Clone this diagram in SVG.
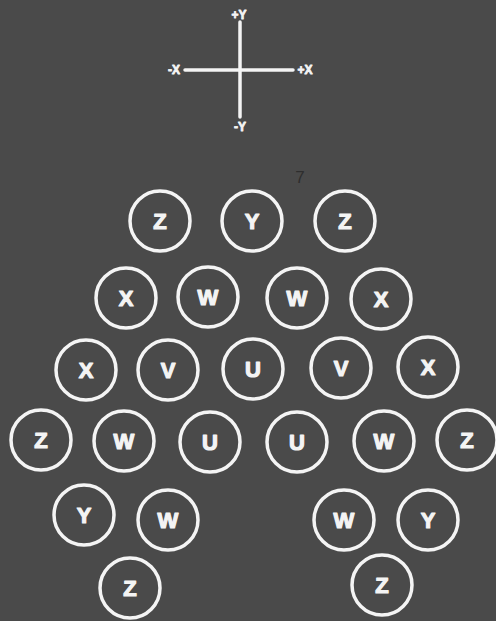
<svg xmlns="http://www.w3.org/2000/svg" width="496" height="621" viewBox="0 0 496 621">
<style>
.c{fill:none;stroke:#f4f4f4;stroke-width:3.5}
.t{fill:#f4f4f4;stroke:#f4f4f4;stroke-width:1.2;stroke-linejoin:round;font-family:"Liberation Sans",Arial,sans-serif;font-weight:bold;font-size:22px;text-anchor:middle;dominant-baseline:central}
.a{fill:#f4f4f4;stroke:#f4f4f4;stroke-width:0.8;stroke-linejoin:round;font-family:"Liberation Sans",Arial,sans-serif;font-weight:bold;font-size:12px;text-anchor:middle;dominant-baseline:central}
.ax{stroke:#f4f4f4;stroke-width:3.5;stroke-linecap:round}
</style>
<rect width="496" height="621" fill="#4a4a4a"/>
<g id="axes">
<line class="ax" x1="240" y1="22" x2="240" y2="117"/>
<line class="ax" x1="185" y1="70" x2="293" y2="70"/>
<text class="a" x="239" y="15">+Y</text>
<text class="a" x="240" y="127">-Y</text>
<text class="a" x="174" y="70">-X</text>
<text class="a" x="305" y="70">+X</text>
</g>
<text x="300" y="177" fill="#2e2e2e" font-family="Liberation Sans,Arial,sans-serif" font-size="17" text-anchor="middle" dominant-baseline="central">7</text>
<g id="n1"><circle class="c" cx="160" cy="221" r="30"/><text class="t" x="160" y="221">Z</text></g>
<g id="n2"><circle class="c" cx="252" cy="221" r="30"/><text class="t" x="252" y="221">Y</text></g>
<g id="n3"><circle class="c" cx="345" cy="221" r="30"/><text class="t" x="345" y="221">Z</text></g>
<g id="n4"><circle class="c" cx="126" cy="298" r="30"/><text class="t" x="126" y="298">X</text></g>
<g id="n5"><circle class="c" cx="208" cy="297" r="30"/><text class="t" x="208" y="297">W</text></g>
<g id="n6"><circle class="c" cx="297" cy="298" r="30"/><text class="t" x="297" y="298">W</text></g>
<g id="n7"><circle class="c" cx="381" cy="299" r="30"/><text class="t" x="381" y="299">X</text></g>
<g id="n8"><circle class="c" cx="86" cy="370" r="30"/><text class="t" x="86" y="370">X</text></g>
<g id="n9"><circle class="c" cx="168" cy="370" r="30"/><text class="t" x="168" y="370">V</text></g>
<g id="n10"><circle class="c" cx="253" cy="369" r="30"/><text class="t" x="253" y="369">U</text></g>
<g id="n11"><circle class="c" cx="341" cy="368" r="30"/><text class="t" x="341" y="368">V</text></g>
<g id="n12"><circle class="c" cx="428" cy="367" r="30"/><text class="t" x="428" y="367">X</text></g>
<g id="n13"><circle class="c" cx="41" cy="440" r="30"/><text class="t" x="41" y="440">Z</text></g>
<g id="n14"><circle class="c" cx="124" cy="441" r="30"/><text class="t" x="124" y="441">W</text></g>
<g id="n15"><circle class="c" cx="210" cy="442" r="30"/><text class="t" x="210" y="442">U</text></g>
<g id="n16"><circle class="c" cx="297" cy="442" r="30"/><text class="t" x="297" y="442">U</text></g>
<g id="n17"><circle class="c" cx="384" cy="441" r="30"/><text class="t" x="384" y="441">W</text></g>
<g id="n18"><circle class="c" cx="467" cy="440" r="30"/><text class="t" x="467" y="440">Z</text></g>
<g id="n19"><circle class="c" cx="84" cy="515" r="30"/><text class="t" x="84" y="515">Y</text></g>
<g id="n20"><circle class="c" cx="168" cy="520" r="30"/><text class="t" x="168" y="520">W</text></g>
<g id="n21"><circle class="c" cx="344" cy="520" r="30"/><text class="t" x="344" y="520">W</text></g>
<g id="n22"><circle class="c" cx="428" cy="520" r="30"/><text class="t" x="428" y="520">Y</text></g>
<g id="n23"><circle class="c" cx="130" cy="588" r="30"/><text class="t" x="130" y="588">Z</text></g>
<g id="n24"><circle class="c" cx="382" cy="585" r="30"/><text class="t" x="382" y="585">Z</text></g>
<g id="connectors"></g>
</svg>
